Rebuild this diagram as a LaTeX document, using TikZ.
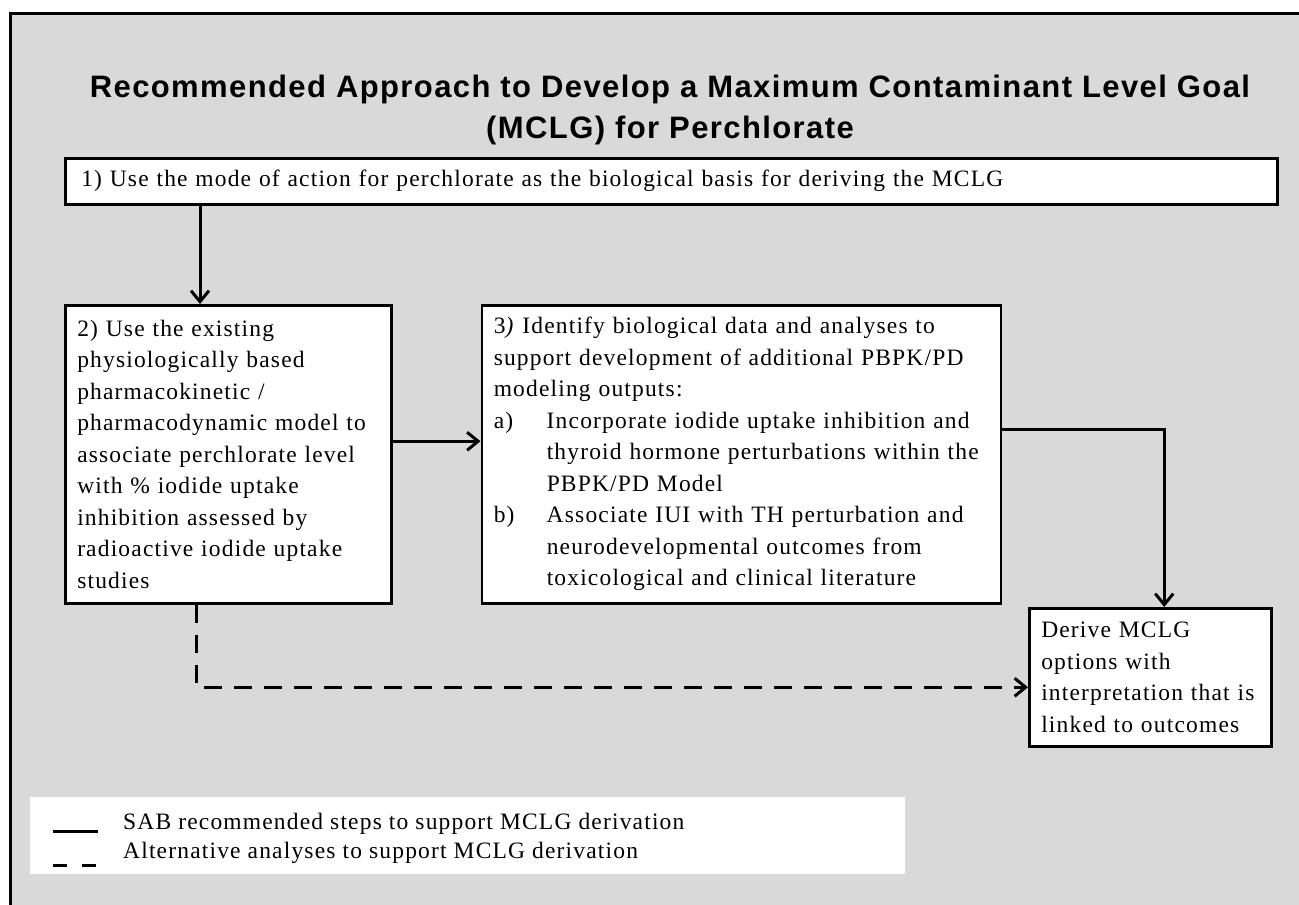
\documentclass[tikz,border=0pt]{standalone}
\usepackage{fontspec}
\setmainfont{Liberation Serif}[LetterSpace=5]
\newfontfamily\headfont{Liberation Sans}[LetterSpace=4.5]
\usetikzlibrary{arrows.meta,positioning}
\definecolor{panelgray}{RGB}{217,217,217}

\begin{document}
\begin{tikzpicture}[x=1pt, y=-1pt]
    \tikzstyle{stepbox} = [rectangle, draw, line width=2.5pt, fill=white, anchor=north west, align=left, inner xsep=12pt, inner ysep=0pt, font=\fontsize{23.5}{31.5}\selectfont]
    \tikzstyle{arrow} = [draw, line width=3pt, -{Straight Barb[length=11pt,width=18pt]}]
    \tikzstyle{dasharrow} = [arrow, dash pattern=on 18pt off 12pt]
    \tikzstyle{legendtext} = [anchor=base west, inner sep=0pt, align=left, font=\fontsize{23.5}{29}\selectfont]

    % Page and panel
    \clip (0,0) rectangle (1299,905);
    \draw[line width=3pt, fill=panelgray] (10,13) rectangle (1330,940);

    % Title
    \node[font=\headfont\bfseries\fontsize{31}{41}\selectfont, align=center] (title) at (670,110) {Recommended Approach to Develop a Maximum Contaminant Level Goal\\(MCLG) for Perchlorate};

    % Step 1
    \node[stepbox, inner xsep=16pt, text width=1180pt, minimum height=46pt] (box1) at (64,157) {1) Use the mode of action for perchlorate as the biological basis for deriving the MCLG};

    % Step 2
    \node[stepbox, text width=302pt, minimum height=298pt] (box2) at (64,304) {2) Use the existing\\physiologically based\\pharmacokinetic /\\pharmacodynamic model to\\associate perchlorate level\\with \% iodide uptake\\inhibition assessed by\\radioactive iodide uptake\\studies};

    % Step 3
    \node[stepbox, right=88pt of box2, text width=495pt, minimum height=298pt] (box3) {3\textit{)} Identify biological data and analyses to\\support development of additional PBPK/PD\\modeling outputs:\\\makebox[53pt][l]{a)}Incorporate iodide uptake inhibition and\\\hspace*{53pt}thyroid hormone perturbations within the\\\hspace*{53pt}PBPK/PD Model\\\makebox[53pt][l]{b)}Associate IUI with TH perturbation and\\\hspace*{53pt}neurodevelopmental outcomes from\\\hspace*{53pt}toxicological and clinical literature};

    % MCLG
    \node[stepbox, text width=218pt, minimum height=138pt] (mclg) at (1028,607) {Derive MCLG\\options with\\interpretation that is\\linked to outcomes};

    % Arrows
    \coordinate (c1) at (200,0);
    \draw[arrow] (box1.south -| c1) -- (box2.north -| c1);
    \draw[arrow] ([yshift=13pt]box2.east) -- ([yshift=13pt]box3.west);
    \draw[arrow] ([yshift=25pt]box3.east) -| ([xshift=14pt]mclg.north);
    \draw[dasharrow] ([xshift=-32pt]box2.south) |- ([yshift=-10pt]mclg.west);

    % Legend
    \node[fill=white, anchor=north west, inner sep=0pt, minimum width=875pt, minimum height=77pt] (legend) at (30,797) {};
    \node[legendtext] (solidtxt) at (123,829) {SAB recommended steps to support MCLG derivation};
    \node[legendtext] (dashtxt) at (123,858) {Alternative analyses to support MCLG derivation};
    \coordinate (s1) at (53,831);
    \coordinate (s2) at (98,831);
    \coordinate (d1) at (53,865);
    \coordinate (d2) at (98,865);
    \draw[line width=3pt] (s1) -- (s2);
    \draw[line width=3pt, dash pattern=on 14pt off 15pt] (d1) -- (d2);
\end{tikzpicture}
\end{document}
